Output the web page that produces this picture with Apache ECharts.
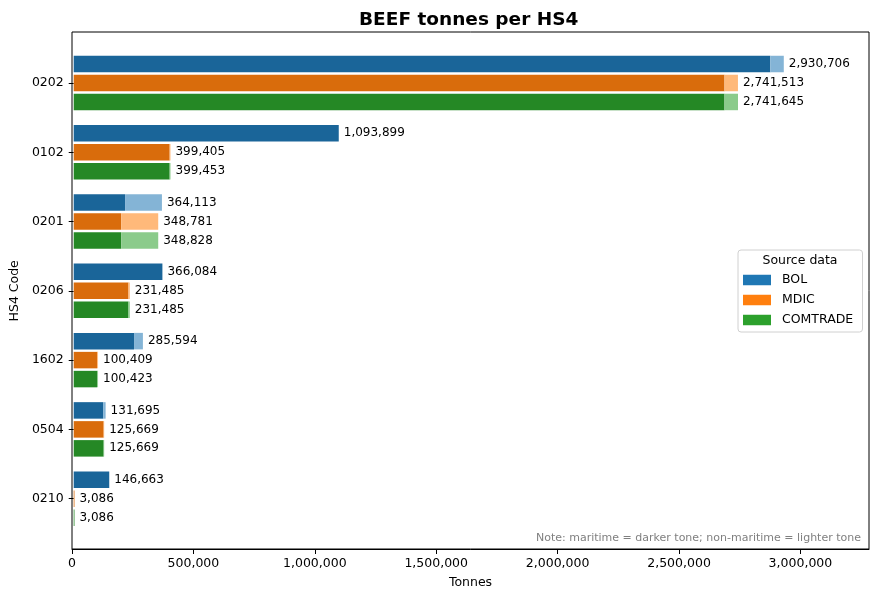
<!DOCTYPE html>
<html>
<head>
<meta charset="utf-8">
<script src="https://cdn.jsdelivr.net/npm/echarts@6/dist/echarts.min.js"></script>
<style>
  html, body { margin: 0; padding: 0; background: #fff; }
  #main { width: 878px; height: 600px; }
</style>
</head>
<body>
<div id="main"></div>
<script>
// HS4 codes, top to bottom
var categories = ['0202', '0102', '0201', '0206', '1602', '0504', '0210'];

// totals per source (tonnes)
var bolTotal = [2930706, 1093899, 364113, 366084, 285594, 131695, 146663];
var mdicTotal = [2741513, 399405, 348781, 231485, 100409, 125669, 3086];
var comtradeTotal = [2741645, 399453, 348828, 231485, 100423, 125669, 3086];

// maritime part (darker tone)
var bolMaritime = [2875000, 1093899, 212000, 366084, 249000, 121500, 146663];
var mdicMaritime = [2686000, 396000, 196000, 226000, 96500, 123500, 3086];
var comtradeMaritime = [2686000, 396000, 196000, 226000, 96500, 123500, 3086];

var xTicks = [0, 500000, 1000000, 1500000, 2000000, 2500000, 3000000];

function rest(total, part) {
  var out = [];
  for (var i = 0; i < total.length; i++) out.push(total[i] - part[i]);
  return out;
}
function fmt(v) {
  return Math.round(v).toLocaleString('en-US');
}

var FONT = 'DejaVu Sans';
var sources = [
  { name: 'BOL', total: bolTotal, dark: bolMaritime, base: '#1f77b4', deep: '#1a6599', light: '#84b4d6' },
  { name: 'MDIC', total: mdicTotal, dark: mdicMaritime, base: '#ff7f0e', deep: '#d96c0c', light: '#ffb97a' },
  { name: 'COMTRADE', total: comtradeTotal, dark: comtradeMaritime, base: '#2ca02c', deep: '#258825', light: '#8bcb8b' }
];

var xMax = Math.max.apply(null, bolTotal) * 1.12;

var series = [];
sources.forEach(function (s) {
  series.push({
    name: s.name,
    type: 'bar',
    stack: s.name,
    xAxisIndex: 0,
    yAxisIndex: 0,
    barWidth: 16.5,
    barGap: '15%',
    itemStyle: { color: s.deep, borderWidth: 0, borderRadius: 0 },
    emphasis: { disabled: true },
    data: s.dark
  });
  series.push({
    name: s.name + ' non-maritime',
    type: 'bar',
    stack: s.name,
    xAxisIndex: 0,
    yAxisIndex: 0,
    barWidth: 16.5,
    barGap: '15%',
    itemStyle: { color: s.light, borderWidth: 0, borderRadius: 0 },
    emphasis: { disabled: true },
    label: {
      show: true,
      position: 'right',
      distance: 5,
      fontFamily: FONT,
      fontSize: 12,
      color: '#000',
      formatter: function (p) { return fmt(s.total[p.dataIndex]); }
    },
    data: rest(s.total, s.dark)
  });
});

var chart = echarts.init(document.getElementById('main'), null, { renderer: 'canvas' });
chart.setOption({
  animation: false,
  backgroundColor: '#fff',
  title: {
    text: 'BEEF tonnes per HS4',
    left: 354,
    top: 6,
    textStyle: { fontFamily: FONT, fontSize: 18.5, fontWeight: 'bold', color: '#000' }
  },
  grid: [
    { left: 72, right: 9, top: 48.35, bottom: 66.7 },
    { left: 72, right: 9, top: 32, bottom: 51, show: true, borderColor: '#000', borderWidth: 1, backgroundColor: 'transparent' }
  ],
  xAxis: [
    { type: 'value', gridIndex: 0, min: 0, max: xMax, interval: 500000, show: false },
    {
      type: 'value', gridIndex: 1, min: 0, max: xMax, interval: 500000,
      name: 'Tonnes', nameLocation: 'middle', nameGap: 27,
      nameTextStyle: { fontFamily: FONT, fontSize: 12.5, color: '#000' },
      axisLine: { show: true, lineStyle: { color: '#000' } },
      axisTick: { show: true, length: 5, lineStyle: { color: '#000' } },
      splitLine: { show: false },
      axisLabel: {
        fontFamily: FONT, fontSize: 12.5, color: '#000', margin: 8,
        showMaxLabel: false,
        formatter: function (v) { return xTicks.indexOf(v) >= 0 ? fmt(v) : ''; }
      }
    }
  ],
  yAxis: [
    {
      type: 'category', gridIndex: 0, data: categories, inverse: true,
      name: 'HS4 Code', nameLocation: 'middle', nameGap: 44,
      nameTextStyle: { fontFamily: FONT, fontSize: 12.5, color: '#000' },
      axisLine: { show: false },
      axisTick: { show: true, alignWithLabel: true, length: 5, lineStyle: { color: '#000' } },
      axisLabel: { fontFamily: FONT, fontSize: 12.5, color: '#000', margin: 10 }
    },
    { type: 'value', gridIndex: 1, show: false, min: 0, max: 1 }
  ],
  legend: {
    z: 20,
    orient: 'vertical',
    left: 743,
    top: 273,
    padding: 0,
    itemWidth: 28,
    itemHeight: 10.5,
    itemGap: 6,
    icon: 'rect',
    selectedMode: false,
    textStyle: { fontFamily: FONT, fontSize: 12.5, color: '#000', lineHeight: 14, padding: [0, 0, 0, 6] },
    data: sources.map(function (s) {
      return { name: s.name, itemStyle: { color: s.base, borderWidth: 0 } };
    })
  },
  graphic: [
    {
      type: 'rect', z: 1,
      shape: { x: 738, y: 250, width: 124.5, height: 82, r: 3 },
      style: { fill: 'rgba(255,255,255,0.8)', stroke: '#d0d0d0', lineWidth: 1 }
    },
    {
      type: 'text', z: 6, x: 800, y: 261,
      style: { text: 'Source data', fontFamily: FONT, fontSize: 12.5, fill: '#000', align: 'center', verticalAlign: 'middle' }
    },
    {
      type: 'text', z: 6, x: 861, y: 538,
      style: { text: 'Note: maritime = darker tone; non-maritime = lighter tone', fontFamily: FONT, fontSize: 11, fill: '#808080', align: 'right', verticalAlign: 'middle' }
    }
  ],
  series: series
});
</script>
</body>
</html>
